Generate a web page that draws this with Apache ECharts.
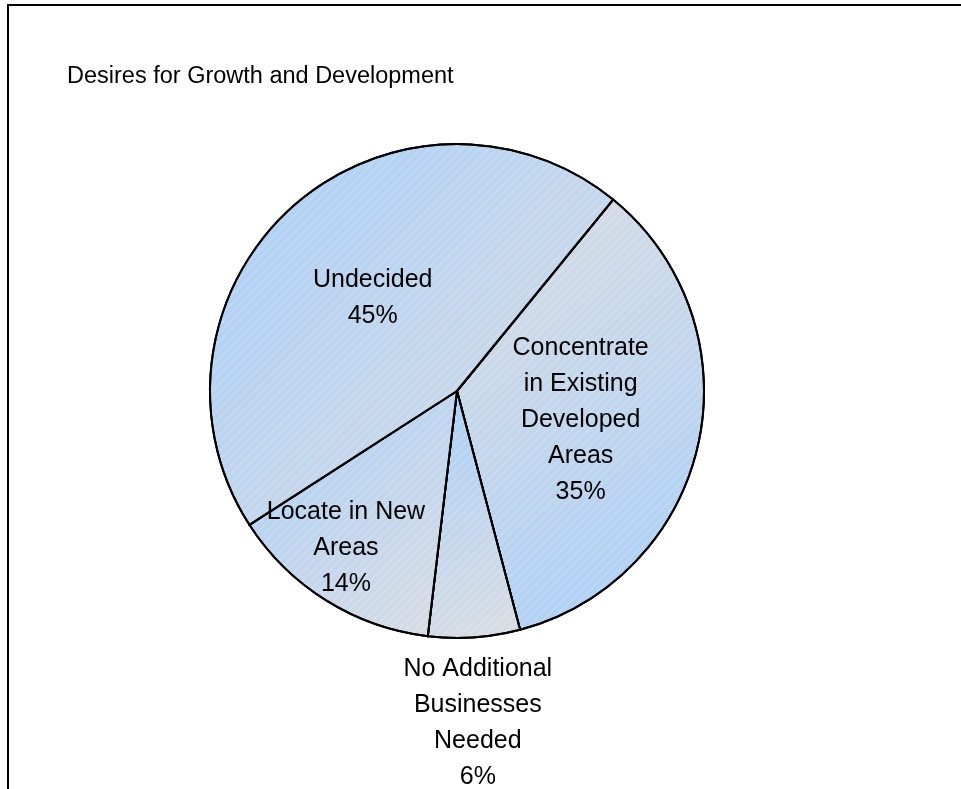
<!DOCTYPE html>
<html>
<head>
<meta charset="utf-8">
<script src="https://cdn.jsdelivr.net/npm/echarts@6/dist/echarts.min.js"></script>
<style>
  html, body { margin: 0; padding: 0; background: #fff; }
  #chart { width: 961px; height: 789px; }
</style>
</head>
<body>
<div id="chart"></div>
<script>
// slice data, clockwise from the upper-right boundary
const names = [
  'Concentrate\nin Existing\nDeveloped\nAreas',
  'No Additional\nBusinesses\nNeeded',
  'Locate in New\nAreas',
  'Undecided'
]
const values = [35, 6, 14, 45]

const blue = '#a9cff8'
const grey = '#dadde2'

function grad(fromBlue) {
  return {
    type: 'linear', x: 0, y: 0, x2: 1, y2: 1,
    colorStops: [
      { offset: 0, color: fromBlue ? blue : grey },
      { offset: 1, color: fromBlue ? grey : blue }
    ]
  }
}

// faint white diagonal hatching
const hatch = {
  symbol: 'rect',
  symbolSize: 1,
  dashArrayX: [1, 0],
  dashArrayY: [1, 5],
  rotation: -Math.PI / 4,
  color: 'rgba(255,255,255,0.22)'
}

// per-slice style and label nudges
const fills = [grad(false), grad(true), grad(true), grad(true)]
const offsets = [[0, 2], [12, 206], [-44, 50], [0, 1]]

const chart = echarts.init(document.getElementById('chart'))

let data = []
for (let i = 0; i < values.length; i++) {
  data.push({
    name: names[i],
    value: values[i],
    itemStyle: { color: fills[i], decal: hatch },
    label: { offset: offsets[i] }
  })
}

chart.setOption({
  animation: false,
  title: {
    text: 'Desires for Growth and Development',
    left: 62,
    top: 60,
    textStyle: {
      fontFamily: 'Liberation Sans, Arial, sans-serif',
      fontSize: 23.5,
      fontWeight: 'normal',
      color: '#000'
    }
  },
  graphic: [{
    type: 'rect',
    shape: { x: 8, y: 5, width: 1000, height: 1000 },
    style: { fill: 'none', stroke: '#000', lineWidth: 2 },
    silent: true
  }],
  series: [{
    type: 'pie',
    center: [457, 391],
    radius: 247,
    startAngle: 50.8,
    clockwise: true,
    avoidLabelOverlap: false,
    itemStyle: { borderColor: '#000', borderWidth: 2 },
    label: {
      show: true,
      position: 'inside',
      formatter: function (p) { return p.name + '\n' + Math.round(p.percent) + '%' },
      fontFamily: 'Liberation Sans, Arial, sans-serif',
      fontSize: 25,
      lineHeight: 36,
      color: '#000',
      align: 'center'
    },
    labelLine: { show: false },
    emphasis: { disabled: true },
    data: data
  }]
})
</script>
</body>
</html>
